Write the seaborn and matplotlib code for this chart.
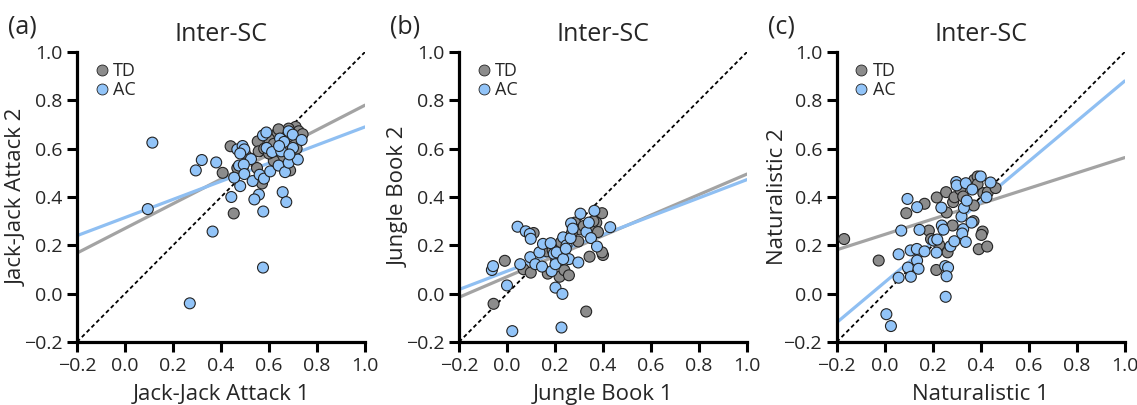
import numpy as np
import pandas as pd
import matplotlib
matplotlib.use("Agg")
import matplotlib.pyplot as plt
import seaborn as sns

# ---------------- data ----------------
groups = ["TD", "AC"]
panel_tags = ["(a)", "(b)", "(c)"]
titles = ["Inter-SC", "Inter-SC", "Inter-SC"]
xlabels = ["Jack-Jack Attack 1", "Jungle Book 1", "Naturalistic 1"]
ylabels = ["Jack-Jack Attack 2", "Jungle Book 2", "Naturalistic 2"]
ticks = [-0.2, 0.0, 0.2, 0.4, 0.6, 0.8, 1.0]
identity = [-0.2, 1.0]

# Panel (a)
a_td_x = [0.407, 0.453, 0.44, 0.468, 0.571, 0.553, 0.635, 0.557, 0.60, 0.711, 0.724, 0.715,
          0.649, 0.682, 0.688, 0.62, 0.66, 0.70, 0.58, 0.52, 0.62, 0.74, 0.68, 0.55, 0.60, 0.64, 0.50]
a_td_y = [0.50, 0.332, 0.61, 0.52, 0.456, 0.63, 0.665, 0.589, 0.64, 0.69, 0.672, 0.60,
          0.566, 0.683, 0.51, 0.62, 0.60, 0.64, 0.60, 0.56, 0.55, 0.66, 0.65, 0.52, 0.58, 0.68, 0.58]
a_ac_x = [0.114, 0.095, 0.295, 0.32, 0.38, 0.365, 0.27, 0.575, 0.443, 0.48, 0.455, 0.468, 0.49,
          0.497, 0.48, 0.525, 0.475, 0.495, 0.497, 0.532, 0.561, 0.579, 0.558, 0.539, 0.576, 0.605,
          0.64, 0.667, 0.682, 0.72, 0.657, 0.672, 0.575, 0.589, 0.59, 0.613, 0.646, 0.663, 0.651,
          0.682, 0.699, 0.736, 0.70, 0.685, 0.642]
a_ac_y = [0.625, 0.35, 0.51, 0.553, 0.543, 0.257, -0.04, 0.108, 0.40, 0.445, 0.48, 0.597, 0.611,
          0.597, 0.58, 0.557, 0.53, 0.534, 0.495, 0.466, 0.492, 0.476, 0.41, 0.39, 0.34, 0.506,
          0.53, 0.503, 0.542, 0.555, 0.42, 0.379, 0.655, 0.667, 0.603, 0.586, 0.642, 0.628, 0.589,
          0.672, 0.658, 0.636, 0.603, 0.576, 0.611]
a_fit_td = [0.27, 0.51]    # intercept, slope
a_fit_ac = [0.315, 0.375]

# Panel (b)
b_td_x = [0.111, -0.009, -0.056, 0.069, 0.099, 0.17, 0.167, 0.205, 0.219, 0.239, 0.258, 0.225,
          0.297, 0.283, 0.304, 0.396, 0.372, 0.36, 0.379, 0.40, 0.396, 0.344, 0.33,
          0.19, 0.25, 0.32, 0.36, 0.27]
b_td_y = [0.251, 0.136, -0.042, 0.101, 0.087, 0.083, 0.175, 0.137, 0.070, 0.097, 0.076, 0.213,
          0.216, 0.294, 0.266, 0.333, 0.294, 0.263, 0.255, 0.16, 0.171, 0.153, -0.074,
          0.18, 0.22, 0.28, 0.30, 0.25]
b_ac_x = [0.044, 0.078, 0.095, 0.099, -0.063, -0.058, 0.0, 0.022, 0.055, 0.097, 0.118, 0.135,
          0.150, 0.182, 0.146, 0.186, 0.195, 0.207, 0.202, 0.202, 0.231, 0.227, 0.258, 0.234,
          0.234, 0.248, 0.245, 0.265, 0.297, 0.267, 0.274, 0.306, 0.331, 0.341, 0.35, 0.364,
          0.375, 0.43]
b_ac_y = [0.277, 0.258, 0.247, 0.227, 0.098, 0.114, 0.034, -0.155, 0.122, 0.151, 0.122, 0.171,
          0.206, 0.209, 0.112, 0.093, 0.165, 0.171, 0.122, 0.025, -0.001, -0.14, 0.143, 0.143,
          0.233, 0.200, 0.186, 0.230, 0.129, 0.291, 0.269, 0.331, 0.255, 0.294, 0.23, 0.343,
          0.195, 0.275]
b_fit_td = [0.07, 0.425]
b_fit_ac = [0.093, 0.379]

# Panel (c)
c_td_x = [-0.169, -0.025, 0.09, 0.166, 0.184, 0.193, 0.227, 0.215, 0.217, 0.258, 0.256, 0.262,
          0.283, 0.285, 0.291, 0.315, 0.327, 0.37, 0.371, 0.373, 0.387, 0.387, 0.411, 0.43,
          0.462, 0.408, 0.403, 0.392, 0.427]
c_td_y = [0.226, 0.137, 0.333, 0.372, 0.261, 0.226, 0.202, 0.098, 0.398, 0.336, 0.42, 0.171,
          0.282, 0.379, 0.399, 0.431, 0.402, 0.30, 0.365, 0.471, 0.485, 0.453, 0.416, 0.42,
          0.437, 0.257, 0.243, 0.184, 0.195]
c_ac_x = [0.007, 0.026, 0.058, 0.058, 0.069, 0.095, 0.097, 0.109, 0.108, 0.134, 0.135, 0.141,
          0.135, 0.145, 0.166, 0.204, 0.219, 0.216, 0.236, 0.238, 0.245, 0.274, 0.29, 0.252,
          0.264, 0.258, 0.254, 0.298, 0.30, 0.338, 0.32, 0.33, 0.342, 0.327, 0.323, 0.338,
          0.362, 0.365, 0.40, 0.441, 0.424]
c_ac_y = [-0.085, -0.134, 0.163, 0.066, 0.261, 0.392, 0.108, 0.070, 0.179, 0.185, 0.137, 0.103,
          0.358, 0.264, 0.175, 0.22, 0.224, 0.17, 0.356, 0.282, 0.265, 0.196, 0.217, 0.114,
          0.108, 0.072, -0.013, 0.462, 0.448, 0.457, 0.319, 0.355, 0.385, 0.267, 0.249, 0.214,
          0.294, 0.431, 0.485, 0.46, 0.399]
c_fit_td = [0.245, 0.318]
c_fit_ac = [0.047, 0.833]

panels = [
    (a_td_x, a_td_y, a_ac_x, a_ac_y, a_fit_td, a_fit_ac),
    (b_td_x, b_td_y, b_ac_x, b_ac_y, b_fit_td, b_fit_ac),
    (c_td_x, c_td_y, c_ac_x, c_ac_y, c_fit_td, c_fit_ac),
]

# ---------------- style ----------------
sns.set_style("ticks")
plt.rcParams["font.family"] = ["Open Sans", "DejaVu Sans"]
plt.rcParams["axes.unicode_minus"] = True

pt_colors = {"TD": "#8c8c8c", "AC": "#92c4f8"}
line_colors = {"TD": "#a3a3a3", "AC": "#8fbff2"}

fig = plt.figure(figsize=(11.37, 4.05), dpi=100)
lefts = [77 / 1137, 459 / 1137, 836.7 / 1137]
width = 288 / 1137
bottom = 1 - 342 / 405
height = 290 / 405

for i, (tdx, tdy, acx, acy, ftd, fac) in enumerate(panels):
    ax = fig.add_axes([lefts[i], bottom, width, height])
    df = pd.DataFrame({
        "x": list(tdx) + list(acx),
        "y": list(tdy) + list(acy),
        "group": ["TD"] * len(tdx) + ["AC"] * len(acx),
    })
    # identity line
    ax.plot(identity, identity, color="black", ls=(0, (2.2, 1.6)), lw=1.3, zorder=1)
    # regression fits
    xs = np.array(identity)
    for g, f in (("TD", ftd), ("AC", fac)):
        sns.lineplot(x=xs, y=f[0] + f[1] * xs, color=line_colors[g], lw=2.3, ax=ax, zorder=2)
    sns.scatterplot(data=df, x="x", y="y", hue="group", hue_order=groups, palette=pt_colors,
                    s=62, edgecolor="#222222", linewidth=0.8, ax=ax, zorder=3, legend=True)
    ax.set_xlim(-0.2, 1.0)
    ax.set_ylim(-0.2, 1.0)
    ax.set_xticks(ticks)
    ax.set_yticks(ticks)
    ax.set_xticklabels([f"{t:.1f}".replace("-", "\u2212") for t in ticks])
    ax.set_yticklabels([f"{t:.1f}".replace("-", "\u2212") for t in ticks])
    for side in ("top", "right"):
        ax.spines[side].set_visible(False)
    for side in ("left", "bottom"):
        ax.spines[side].set_linewidth(2.3)
        ax.spines[side].set_color("black")
    ax.tick_params(axis="both", length=7.5, width=2.2, labelsize=14, color="black", pad=3)
    ax.set_xlabel(xlabels[i], fontsize=16, labelpad=7)
    ax.set_ylabel(ylabels[i], fontsize=16)
    ax.yaxis.set_label_coords(-0.17, 0.5)
    ax.set_title(titles[i], fontsize=18, pad=8)
    leg = ax.legend(loc="upper left", bbox_to_anchor=(0.035, 0.995), frameon=False,
                    fontsize=13, handletextpad=0.35, labelspacing=0.05, borderpad=0,
                    handlelength=0.6, markerscale=1.0)
    for h in leg.legend_handles:
        try:
            h.set_markeredgecolor("#222222")
            h.set_markeredgewidth(0.6)
        except AttributeError:
            h.set_edgecolor("#222222")
            h.set_linewidth(0.6)
    fig.text(lefts[i] - 69 / 1137, 1 - 27 / 405, panel_tags[i], fontsize=18,
             ha="left", va="center")

fig.savefig("out.png", dpi=100)
